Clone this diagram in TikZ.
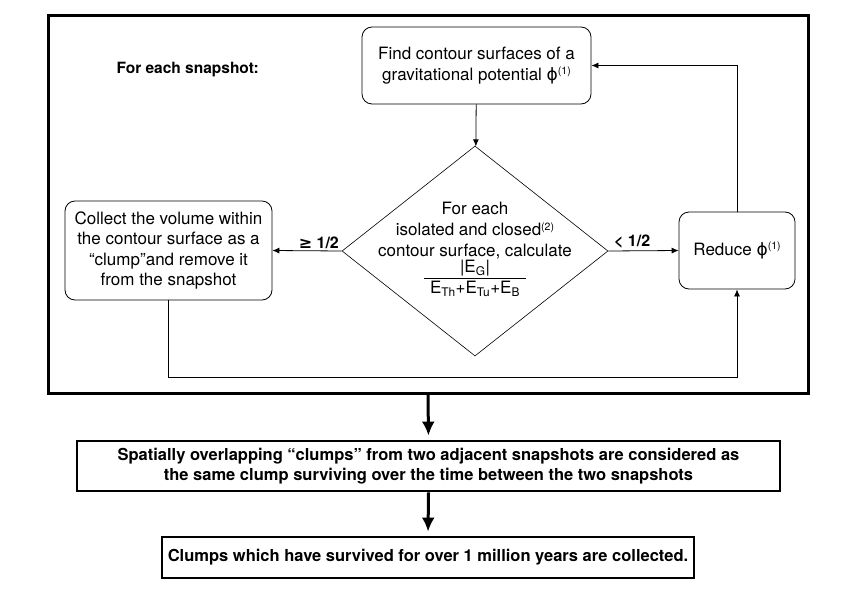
\documentclass[tikz,border=0pt]{standalone}
\usepackage{fontspec}
\setmainfont{TeX Gyre Heros}
\newfontfamily\symfont{DejaVu Sans}
\usetikzlibrary{shapes.geometric}
\usetikzlibrary{arrows.meta}

\newcommand{\phisym}{{\symfont ϕ}}
\newcommand{\supnum}[1]{\raisebox{0.62ex}{\fontsize{10.5}{10.5}\selectfont(#1)}}

\tikzset{
	stepbox/.style={draw, rounded corners=10pt, line width=0.8pt, align=center, inner sep=0pt, font=\fontsize{17}{20.5}\selectfont},
	decision/.style={draw, diamond, line width=0.6pt, inner sep=0pt},
	outbox/.style={draw, line width=2.8pt, align=center, inner sep=0pt, font=\fontsize{16.5}{19.5}\selectfont\bfseries},
	thinarrow/.style={-{Latex[length=7pt,width=6pt]}, line width=0.8pt},
	thickarrow/.style={-{Latex[length=14pt,width=13pt]}, line width=3pt, shorten >=4pt},
	edgelabel/.style={font=\fontsize{16}{19}\selectfont\bfseries, inner sep=2pt},
}

\begin{document}
\begin{tikzpicture}[x=1pt,y=-1pt]
	\useasboundingbox (0,0) rectangle (842,596);
	\node[draw, line width=3pt, minimum width=760pt, minimum height=377pt, inner sep=0pt] (frame) at (428,204.5) {};
	\node[anchor=west, font=\fontsize{15.5}{19}\selectfont\bfseries] (title) at (113,70) {For each snapshot:};
	\node[stepbox, minimum width=229pt, minimum height=77pt] (find) at (476.5,65.5) {Find contour surfaces of a\\gravitational potential \phisym\supnum{1}};
	\node[decision, minimum width=266pt, minimum height=210pt] (test) at (475,251) {};
	\node[align=center, inner sep=0pt, font=\fontsize{17}{21}\selectfont] (testtext) at (test.center) {For each\\isolated and closed\supnum{2}\\contour surface, calculate\\[-2pt]\begin{tabular}{@{\hspace{6pt}}c@{\hspace{6pt}}}|E\textsubscript{G}|\\[-1pt]\hline E\textsubscript{Th}+E\textsubscript{Tu}+E\textsubscript{B}\end{tabular}};
	\node[stepbox, minimum width=207pt, minimum height=99pt] (collect) at (168.5,250.5) {Collect the volume within\\the contour surface as a\\“clump”and remove it\\from the snapshot};
	\node[stepbox, minimum width=116pt, minimum height=77pt] (reduce) at (737,250.5) {Reduce \phisym\supnum{1}};
	\node[outbox, minimum width=703pt, minimum height=50pt] (overlap) at (428.5,466) {Spatially overlapping “clumps” from two adjacent snapshots are considered as\\the same clump surviving over the time between the two snapshots};
	\node[outbox, minimum width=532pt, minimum height=41pt] (final) at (428,557.5) {Clumps which have survived for over 1 million years are collected.};

	\draw[thinarrow] (find) -- (test);
	\draw[thinarrow] (test.west) -- node[edgelabel, pos=0.33, above] {{\symfont ≥} 1/2} (collect.east);
	\draw[thinarrow] (test.east) -- node[edgelabel, pos=0.34, above] {< 1/2} (reduce.west);
	\draw[thinarrow] (reduce.north) |- (find.east);
	\draw[thinarrow] (collect.south) -- ++(0,77) -| (reduce.south);
	\draw[thickarrow] (frame.south) -- (overlap.north);
	\draw[thickarrow] (overlap.south) -- (final.north);
\end{tikzpicture}
\end{document}
